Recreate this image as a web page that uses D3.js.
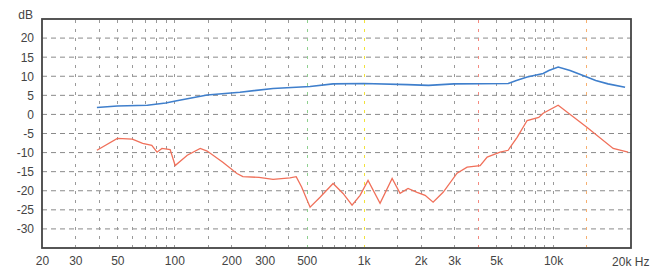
<!DOCTYPE html>
<html><head><meta charset="utf-8">
<script src="https://cdn.jsdelivr.net/npm/d3@7"></script>
<style>
body{margin:0;background:#fff;}
svg{display:block;font-family:"Liberation Sans",Arial,sans-serif;}
</style></head><body>
<svg id="c" width="669" height="269"></svg>
<script>
const blueFreq = [39,50,72,90,103,149,222,332,521,689,1000,1700,2200,3000,5800,6400,7300,8870,9500,10640,12300,14400,16800,19500,24000];
const blueDb   = [1.8,2.2,2.4,3,3.6,5.1,5.8,6.8,7.3,8,8.1,7.8,7.6,8,8.1,8.9,9.8,10.7,11.5,12.4,11.5,10.2,8.9,8,7.1];
const redFreq = [39,50,60,68,76,81,86,95,101,117,137,149,181,214,230,280,332,408,440,470,521,588,689,778,868,957,1054,1220,1413,1556,1715,1914,2110,2326,2626,3112,3516,4120,4488,5252,5790,6460,7296,8400,8866,10640,15140,20770,24900];
const redDb   = [-9.4,-6.3,-6.5,-7.6,-8.1,-9.9,-8.9,-9.2,-13.4,-10.7,-8.9,-9.6,-12.6,-15.5,-16.3,-16.5,-17,-16.6,-16.3,-19,-24.3,-21.7,-18.1,-20.7,-23.8,-21.2,-17.3,-23.3,-16.8,-20.7,-19.4,-20.4,-21.2,-23,-20.4,-15.4,-13.8,-13.4,-11.2,-9.9,-9.4,-6,-1.6,-0.8,0.3,2.4,-3.4,-8.9,-9.9];
const yTicks = [20,15,10,5,0,-5,-10,-15,-20,-25,-30];
const xTickVals = [20,30,50,100,200,300,500,1000,2000,3000,5000,10000];
const xTickLabels = ["20","30","50","100","200","300","500","1k","2k","3k","5k","10k"];
const lastTick = 20000, lastLabel = "20k Hz";
const gridFreq = [30,40,50,60,70,80,90,100,150,200,300,400,500,600,700,800,900,1000,1500,2000,3000,4000,5000,6000,7000,8000,9000,10000,15000];
const gridColors = {500:"#8fd08f",1000:"#f2e23a",4000:"#f48a80",15000:"#f6b070"};

const svg = d3.select("#c");
const x = d3.scaleLog().domain([20,25800]).range([42,631]);
const y = d3.scaleLinear().domain([-35,25]).range([248,19]);

// grid
svg.append("g").selectAll("line").data(yTicks).join("line")
  .attr("x1",42).attr("x2",631).attr("y1",d=>y(d)).attr("y2",d=>y(d))
  .attr("stroke","#8a8a8a").attr("stroke-width",1).attr("stroke-dasharray","5,4");
svg.append("g").selectAll("line").data(gridFreq).join("line")
  .attr("x1",d=>Math.round(x(d))+0.5).attr("x2",d=>Math.round(x(d))+0.5)
  .attr("y1",20).attr("y2",247)
  .attr("stroke",d=>gridColors[d]||"#9a9a9a").attr("stroke-width",1)
  .attr("stroke-dasharray","3,6");

// frame
svg.append("rect").attr("x",42).attr("y",19).attr("width",589).attr("height",229)
  .attr("fill","none").attr("stroke","#444").attr("stroke-width",1.8);

// lines
const line = d3.line().x(d=>x(d[0])).y(d=>y(d[1]));
svg.append("path").datum(blueFreq.map((f,i)=>[f,blueDb[i]]))
  .attr("d",line).attr("fill","none").attr("stroke","#3f7fcc").attr("stroke-width",1.6);
svg.append("path").datum(redFreq.map((f,i)=>[f,redDb[i]]))
  .attr("d",line).attr("fill","none").attr("stroke","#f0705a").attr("stroke-width",1.3);

// y axis labels
const ya = svg.append("g").attr("transform","translate(42,0)")
  .call(d3.axisLeft(y).tickValues(yTicks).tickSize(0).tickPadding(8).tickFormat(d=>d));
ya.select(".domain").remove();
ya.selectAll("text").attr("font-size",12).attr("fill","#444").attr("font-family","Liberation Sans, Arial, sans-serif");
svg.append("text").attr("x",33).attr("y",19).attr("text-anchor","end")
  .attr("font-size",12).attr("fill","#444").text("dB");

// x axis labels
const xa = svg.append("g").attr("transform","translate(0,252)")
  .call(d3.axisBottom(x).tickValues(xTickVals).tickSize(0).tickPadding(4).tickFormat((d,i)=>xTickLabels[i]));
xa.select(".domain").remove();
xa.selectAll("text").attr("font-size",12).attr("fill","#444").attr("font-family","Liberation Sans, Arial, sans-serif");
svg.append("text").attr("x",x(lastTick)+2).attr("y",266).attr("text-anchor","start")
  .attr("font-size",12).attr("fill","#444").text(lastLabel);
</script></body></html>
